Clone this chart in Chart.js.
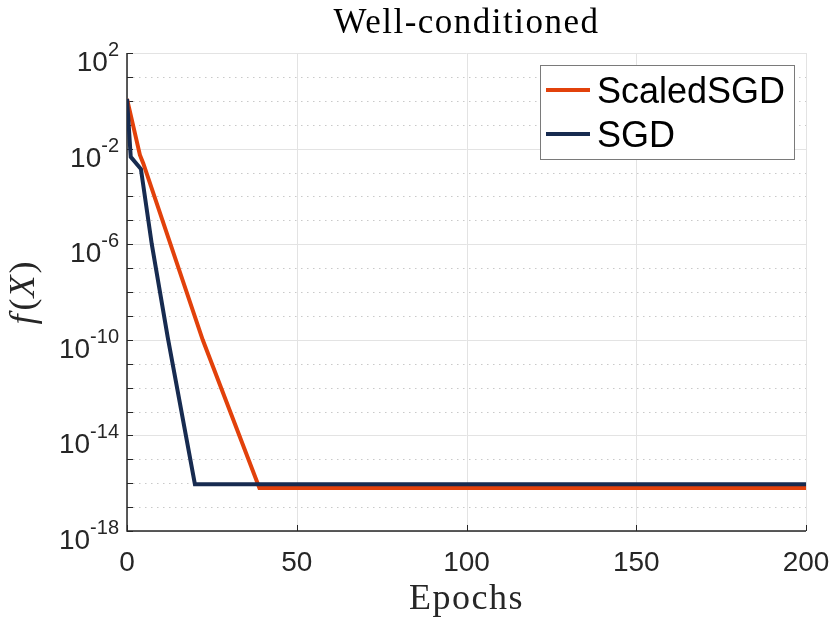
<!DOCTYPE html>
<html lang="en">
<head>
  <meta charset="UTF-8">
  <title>Well-conditioned</title>
  <script src="https://cdn.jsdelivr.net/npm/chart.js"></script>
  <style>
    body { margin: 0; background: #fff; }
    #wrap { width: 830px; height: 623px; }
  </style>
</head>
<body>
  <div id="wrap"><canvas id="lossChart"></canvas></div>
  <script>
    // values (breakpoints of each curve)
    const epochsScaled = [0, 3.8, 4.8, 22.3, 39, 200];
    const lossScaled   = [1.2, 5.4e-3, 2.4e-3, 1e-10, 6.3e-17, 6.3e-17];
    const epochsSGD    = [0, 1.1, 4.1, 7.3, 12, 20, 200];
    const lossSGD      = [1.2, 4.5e-3, 1.4e-3, 1e-6, 1.26e-10, 9.1e-17, 9.1e-17];

    const seriesNames = ['ScaledSGD', 'SGD'];
    const seriesColors = ['#e2410b', '#172b50'];
    const xTicks = [0, 50, 100, 150, 200];
    const yTickExps = [2, -2, -6, -10, -14, -18];
    const yMinExp = -18, yMaxExp = 2;

    const toPoints = (xs, ys) => xs.map((x, i) => ({ x: x, y: ys[i] }));

    const axisColor = '#262626';

    const decorPlugin = {
      id: 'decor',
      beforeDatasetsDraw(chart) {
        const { ctx, chartArea: a, scales: { x, y } } = chart;
        ctx.save();
        // minor dotted grid at every decade
        ctx.lineWidth = 1;
        ctx.strokeStyle = '#c9c9c9';
        ctx.setLineDash([1.5, 4.5]);
        for (let e = yMinExp; e <= yMaxExp; e++) {
          if (yTickExps.includes(e)) continue;
          const py = Math.round(y.getPixelForValue(Math.pow(10, e))) + 0.5;
          ctx.beginPath(); ctx.moveTo(a.left, py); ctx.lineTo(a.right, py); ctx.stroke();
        }
        // major solid grid
        ctx.setLineDash([]);
        ctx.strokeStyle = '#e3e3e3';
        yTickExps.forEach(e => {
          const py = Math.round(y.getPixelForValue(Math.pow(10, e))) + 0.5;
          ctx.beginPath(); ctx.moveTo(a.left, py); ctx.lineTo(a.right, py); ctx.stroke();
        });
        xTicks.forEach(v => {
          const px = Math.round(x.getPixelForValue(v)) + 0.5;
          ctx.beginPath(); ctx.moveTo(px, a.top); ctx.lineTo(px, a.bottom); ctx.stroke();
        });
        // axis lines + inward ticks
        ctx.strokeStyle = axisColor;
        ctx.lineWidth = 1.5;
        ctx.beginPath();
        ctx.moveTo(a.left, a.top); ctx.lineTo(a.left, a.bottom); ctx.lineTo(a.right, a.bottom);
        ctx.stroke();
        ctx.lineWidth = 1;
        for (let e = yMinExp; e <= yMaxExp; e++) {
          const py = Math.round(y.getPixelForValue(Math.pow(10, e))) + 0.5;
          ctx.beginPath(); ctx.moveTo(a.left, py); ctx.lineTo(a.left + 6, py); ctx.stroke();
        }
        xTicks.forEach(v => {
          const px = Math.round(x.getPixelForValue(v)) + 0.5;
          ctx.beginPath(); ctx.moveTo(px, a.bottom); ctx.lineTo(px, a.bottom - 6); ctx.stroke();
        });
        ctx.restore();
      },
      afterDraw(chart) {
        const { ctx, chartArea: a, scales: { x, y } } = chart;
        ctx.save();
        ctx.fillStyle = axisColor;

        // x tick labels
        ctx.font = "28px 'Liberation Sans', Arial, sans-serif";
        ctx.textAlign = 'center';
        ctx.textBaseline = 'alphabetic';
        xTicks.forEach(v => ctx.fillText(String(v), x.getPixelForValue(v), a.bottom + 40));

        // y tick labels 10^n
        yTickExps.forEach(e => {
          const py = y.getPixelForValue(Math.pow(10, e));
          const exp = String(e);
          ctx.font = "20px 'Liberation Sans', Arial, sans-serif";
          const ew = ctx.measureText(exp).width;
          ctx.textAlign = 'right';
          ctx.fillText(exp, 119, py + 3);
          ctx.font = "28px 'Liberation Sans', Arial, sans-serif";
          ctx.fillText('10', 119 - ew, py + 18);
        });

        // title and axis titles
        ctx.fillStyle = '#000';
        ctx.textAlign = 'center';
        ctx.letterSpacing = '1.5px';
        ctx.font = "35px 'Liberation Serif', serif";
        ctx.fillText('Well-conditioned', (a.left + a.right) / 2, 33);
        ctx.fillStyle = axisColor;
        ctx.font = "36px 'Liberation Serif', serif";
        ctx.fillText('Epochs', (a.left + a.right) / 2, 609);
        ctx.letterSpacing = '0px';

        // y title f(X): italic letters, upright brackets
        ctx.save();
        ctx.translate(34, 293);
        ctx.rotate(-Math.PI / 2);
        ctx.textAlign = 'left';
        const parts = [['italic 36px', 'f', 4], ['36px', '(', 1], ['italic 36px', 'X', 2], ['36px', ')', 0]];
        let total = 0;
        parts.forEach(p => { ctx.font = p[0] + " 'Liberation Serif', serif"; total += ctx.measureText(p[1]).width + p[2]; });
        let cx = -total / 2;
        parts.forEach(p => {
          ctx.font = p[0] + " 'Liberation Serif', serif";
          ctx.fillText(p[1], cx, 0);
          cx += ctx.measureText(p[1]).width + p[2];
        });
        ctx.restore();

        // legend
        const lx = 540.5, ly = 65.5, lw = 254, lh = 94;
        ctx.fillStyle = '#fff';
        ctx.fillRect(lx, ly, lw, lh);
        ctx.strokeStyle = '#7a7a7a';
        ctx.lineWidth = 1;
        ctx.strokeRect(lx, ly, lw, lh);
        ctx.font = "36px 'Liberation Sans', Arial, sans-serif";
        ctx.textAlign = 'left';
        seriesNames.forEach((name, i) => {
          const cy = 90 + i * 44;
          ctx.strokeStyle = seriesColors[i];
          ctx.lineWidth = 4;
          ctx.beginPath(); ctx.moveTo(546, cy); ctx.lineTo(590, cy); ctx.stroke();
          ctx.fillStyle = '#000';
          ctx.fillText(name, 597, cy + 13);
        });
        ctx.restore();
      }
    };

    new Chart(document.getElementById('lossChart'), {
      type: 'line',
      data: {
        datasets: [
          {
            label: seriesNames[0],
            data: toPoints(epochsScaled, lossScaled),
            borderColor: seriesColors[0],
            borderWidth: 4,
            order: 1
          },
          {
            label: seriesNames[1],
            data: toPoints(epochsSGD, lossSGD),
            borderColor: seriesColors[1],
            borderWidth: 4,
            order: 0
          }
        ]
      },
      options: {
        responsive: true,
        maintainAspectRatio: false,
        animation: false,
        layout: { padding: { left: 127, right: 24, top: 53, bottom: 92 } },
        elements: { point: { radius: 0 }, line: { tension: 0 } },
        scales: {
          x: { type: 'linear', min: 0, max: 200, display: false },
          y: { type: 'logarithmic', min: Math.pow(10, yMinExp), max: Math.pow(10, yMaxExp), display: false }
        },
        plugins: {
          legend: { display: false },
          tooltip: { enabled: false }
        }
      },
      plugins: [decorPlugin]
    });
  </script>
</body>
</html>
